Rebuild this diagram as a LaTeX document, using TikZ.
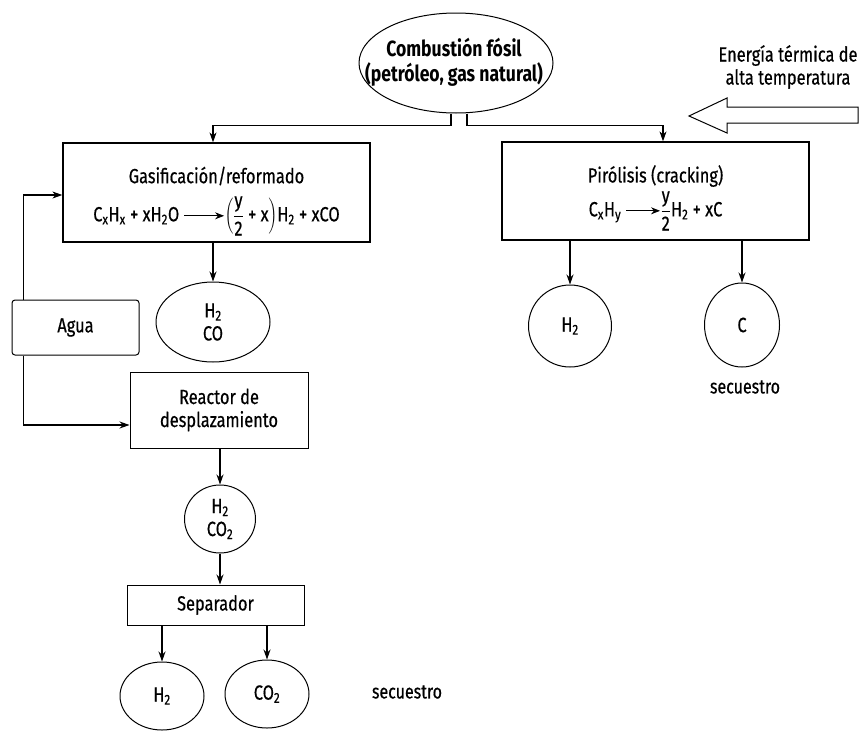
\documentclass[tikz,border=0pt]{standalone}
\usepackage{fontspec}
\setmainfont{Fira Sans}[FakeStretch=0.8, UprightFeatures={FakeBold=0.5}]
\usetikzlibrary{shapes.geometric,arrows.meta,calc}

% reaction arrow used inside the box texts
\newcommand{\rxarrow}[1]{\tikz[baseline={(0pt,-5.5pt)}]\draw[-{Stealth[length=9pt,width=7pt]},line width=0.9pt] (0pt,0pt)--(#1,0pt);}
\newcommand{\sub}[1]{\textsubscript{#1}}

\begin{document}
\begin{tikzpicture}[x=1pt,y=-1pt,
  every node/.style={font=\fontsize{20.5}{23}\selectfont, align=center, inner sep=0pt},
  procbox/.style={draw, line width=1.3pt, rectangle},
  oval/.style={draw, line width=1pt, ellipse},
  arr/.style={-{Stealth[length=10pt,width=7pt]}, line width=1.1pt},
  lbl/.style={font=\fontsize{20}{22}\selectfont}]

\useasboundingbox (0,0) rectangle (861,731);

% source and heat input
\node[oval, minimum width=194, minimum height=100] (comb) at (456,63) {};
\node[font=\bfseries\fontsize{22}{25}\selectfont] (combtext) at (454,62)
  {Combustión fósil\\(petróleo, gas natural)};
\node (energy) at (788,67) {Energía térmica de\\alta temperatura};
\draw[line width=1pt, fill=white] (689,116) -- (727,98) -- (727,107) -- (858,107)
  -- (858,123) -- (727,123) -- (727,133) -- cycle;

% left branch: gasification / reforming
\node[procbox, minimum width=307, minimum height=99] (gas) at (216.5,192.5) {};
\node (gastitle) at (216.5,176) {Gasificación/reformado};
\node (gaseq) at (216.5,216) {C\sub{x}H\sub{x} + xH\sub{2}O \rxarrow{40pt}$\displaystyle\left(\frac{\mbox{y}}{\mbox{2}}\mbox{ + x}\right)$H\sub{2} + xCO};

\node[procbox, line width=1pt, rounded corners=3pt, minimum width=127, minimum height=55] (agua) at (75.5,327.5) {Agua};
\node[oval, minimum width=114, minimum height=80] (hco) at (213,322) {H\sub{2}\\CO};
\node[procbox, line width=1pt, minimum width=178, minimum height=76] (reactor) at (219,410) {Reactor de\\desplazamiento};
\node[oval, minimum width=71, minimum height=68] (hco2) at (220,519) {H\sub{2}\\CO\sub{2}};
\node[procbox, line width=1pt, minimum width=177, minimum height=40] (sep) at (215.5,605) {Separador};
\node[oval, minimum width=84, minimum height=68] (h2a) at (162,696) {H\sub{2}};
\node[oval, minimum width=84, minimum height=68] (co2) at (267,694) {CO\sub{2}};
\node[lbl] (seqa) at (407,692) {secuestro};

% right branch: pyrolysis
\node[procbox, minimum width=307, minimum height=98] (pir) at (655.5,191) {};
\node (pirtitle) at (655.5,176) {Pirólisis (cracking)};
\node (pireq) at (655.5,211) {C\sub{x}H\sub{y} \rxarrow{34pt}$\displaystyle\frac{\mbox{y}}{\mbox{2}}$H\sub{2} + xC};
\node[oval, minimum width=83, minimum height=82] (h2b) at (570,326) {H\sub{2}};
\node[oval, minimum width=75, minimum height=84] (carb) at (742,325) {C};
\node[lbl] (seqb) at (745,387) {secuestro};

% connectors
\draw[arr] ($(comb.south)+(-5,0)$) -- ++(0,12) -| ([xshift=-3.5pt]gas.north);
\draw[arr] ($(comb.south)+(11,0)$) -- ++(0,12) -| ([xshift=7.5pt]pir.north);
\draw[arr] (gas.south -| hco.north) -- (hco.north);
\draw[arr] ([xshift=12pt]agua.north west) |- ([yshift=-2.5pt]gas.west);
\draw[arr] ([xshift=12pt]agua.south west) |- ([yshift=-15pt]reactor.west);
\draw[arr] (reactor.south -| hco2.north) -- (hco2.north);
\draw[arr] (hco2.south) -- (hco2.south |- sep.north);
\draw[arr] (sep.south -| h2a.north) -- (h2a.north);
\draw[arr] (sep.south -| co2.north) -- (co2.north);
\draw[arr] (pir.south -| h2b.north) -- (h2b.north);
\draw[arr] (pir.south -| carb.north) -- (carb.north);
\end{tikzpicture}
\end{document}
